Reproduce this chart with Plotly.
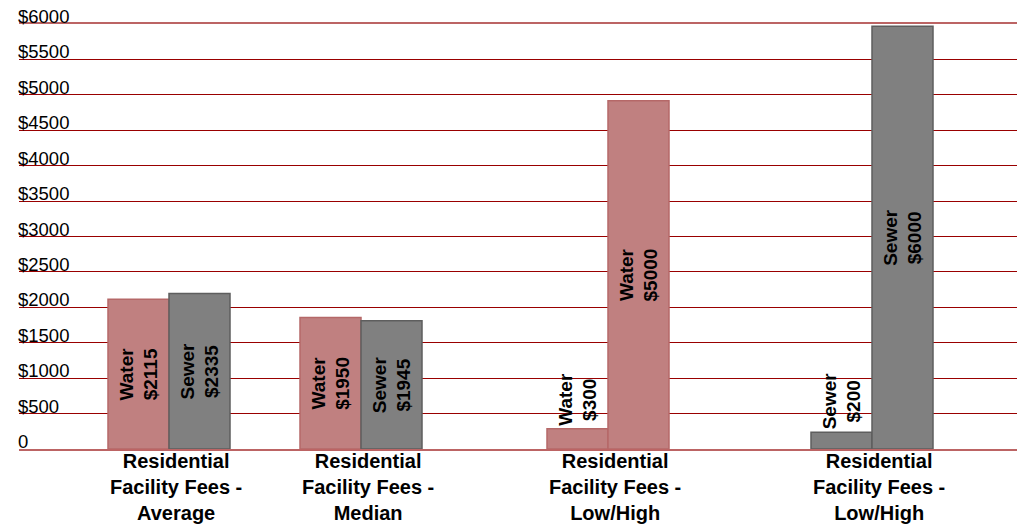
import plotly.graph_objects as go

# ---- data ----
categories = ["Residential<br>Facility Fees -<br>Average",
              "Residential<br>Facility Fees -<br>Median",
              "Residential<br>Facility Fees -<br>Low/High",
              "Residential<br>Facility Fees -<br>Low/High"]
left_series = ["Water", "Water", "Water", "Sewer"]
left_values = [2115, 1855, 285, 235]
left_labels = ["$2115", "$1950", "$300", "$200"]
right_series = ["Sewer", "Sewer", "Water", "Sewer"]
right_values = [2195, 1810, 4915, 5970]
right_labels = ["$2335", "$1945", "$5000", "$6000"]
tick_values = [0, 500, 1000, 1500, 2000, 2500, 3000, 3500, 4000, 4500, 5000, 5500, 6000]
tick_labels = ["0", "$500", "$1000", "$1500", "$2000", "$2500", "$3000", "$3500",
               "$4000", "$4500", "$5000", "$5500", "$6000"]

# ---- layout / style ----
group_pos = [150, 342, 589, 853]
bar_w = 61
colors = {"Water": "#C08080", "Sewer": "#808080"}
borders = {"Water": "#B56868", "Sewer": "#5E5E5E"}
FONT = "Liberation Sans, Arial, sans-serif"


def positions(vals):
    # small bars get label outside (above), others inside
    return ["outside" if v < 1000 else "inside" for v in vals]


fig = go.Figure()
for series, vals, labels, off in [(left_series, left_values, left_labels, -bar_w),
                                  (right_series, right_values, right_labels, 0)]:
    fig.add_trace(go.Bar(
        x=group_pos, y=vals, width=bar_w, offset=off,
        marker=dict(color=[colors[s] for s in series],
                    line=dict(color=[borders[s] for s in series], width=1.5)),
        text=[f"{s}<br>{l}" for s, l in zip(series, labels)],
        textposition=positions(vals), textangle=-90,
        insidetextanchor="middle", constraintext="none",
        textfont=dict(family=FONT, size=19, color="black", weight="bold"),
        cliponaxis=False, hoverinfo="skip",
    ))

annotations = []
for v, t in zip(tick_values, tick_labels):
    annotations.append(dict(x=0, xref="paper", y=v, yref="y", text=t, showarrow=False,
                            xanchor="left", yanchor="bottom", xshift=-3, yshift=-5,
                            font=dict(family=FONT, size=18.5, color="black")))
for p, c in zip(group_pos, categories):
    annotations.append(dict(x=p, xref="x", y=0, yref="paper", text=c, showarrow=False,
                            xanchor="center", yanchor="top", xshift=7, yshift=1,
                            font=dict(family=FONT, size=20, color="black", weight="bold")))

# page body has an 8px margin, so the figure is placed at (8, 8)
fig.update_layout(
    width=1017, height=519,
    margin=dict(l=11, r=5, t=16, b=78, autoexpand=False),
    plot_bgcolor="white", paper_bgcolor="white",
    showlegend=False, barmode="overlay",
    xaxis=dict(range=[0, 1001], showticklabels=False, showgrid=False, zeroline=False,
               showline=True, mirror=True, linecolor="#BC6464", linewidth=2, ticks=""),
    yaxis=dict(range=[0, 6000], tickvals=tick_values, showticklabels=False,
               gridcolor="#990000", gridwidth=1.3, zeroline=False, showline=False, ticks=""),
    annotations=annotations,
)

fig.write_html("out.html")
